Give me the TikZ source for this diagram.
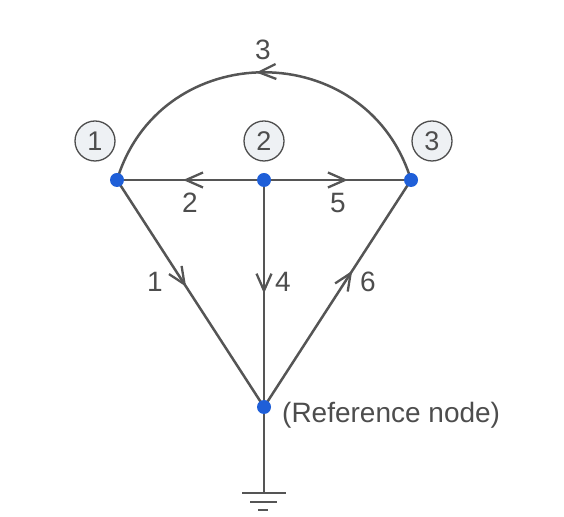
\documentclass[tikz,border=0pt]{standalone}
\usepackage{fontspec}
\setmainfont{Liberation Sans}
\usetikzlibrary{arrows.meta,decorations.markings}
\definecolor{wirec}{HTML}{555555}
\definecolor{lblc}{HTML}{4D4D4D}
\definecolor{dotblue}{HTML}{1F5FD8}
\definecolor{circfill}{HTML}{EEF1F4}

\begin{document}
\begin{tikzpicture}[x=1pt,y=1pt,
  wire/.style={draw=wirec,line width=2.5pt},
  midarrow/.style={postaction={decorate},decoration={markings,mark=at position #1 with {\arrow[wirec,line width=2.3pt]{Straight Barb[length=17pt,width=15pt]}}}},
  numlbl/.style={text=lblc,font=\fontsize{28}{30}\selectfont,inner sep=0pt},
  nodenum/.style={circle,draw=lblc,line width=1.3pt,fill=circfill,minimum size=40pt,inner sep=0pt,text=lblc,font=\fontsize{27}{30}\selectfont}]
\useasboundingbox (0,0) rectangle (564,516);
% junctions
\coordinate (n1) at (117,336);
\coordinate (n2) at (264,336);
\coordinate (n3) at (411,336);
\coordinate (ref) at (264,109);
\coordinate (gnd) at (264,23);
% branches
\draw[wire,midarrow=0.52] (n3) to[out=107,in=73,looseness=1.31] (n1);
\draw[wire,midarrow=0.55] (n2) -- (n1);
\draw[wire,midarrow=0.57] (n2) -- (n3);
\draw[wire,midarrow=0.47] (n1) -- (ref);
\draw[wire,midarrow=0.5] (n2) -- (ref);
\draw[wire,midarrow=0.6] (ref) -- (n3);
\draw[wire] (ref) -- (gnd);
% ground
\draw[wire] ([xshift=-22pt]gnd) -- ([xshift=22pt]gnd);
\draw[wire] ([xshift=-14pt,yshift=-9pt]gnd) -- ([xshift=13pt,yshift=-9pt]gnd);
\draw[wire,line width=1.8pt] ([xshift=-6pt,yshift=-17pt]gnd) -- ([xshift=4pt,yshift=-17pt]gnd);
\foreach \p in {n1,n2,n3,ref}{
\fill[dotblue] (\p) circle (7);}
% node numbers
\foreach \i/\x in {1/95,2/264,3/432}{
\node[nodenum] (c\i) at (\x,375) {\i};}
% branch numbers
\node[numlbl] (b3) at (263,466) {3};
\node[numlbl] (b2) at (190,313) {2};
\node[numlbl] (b5) at (338,313) {5};
\node[numlbl] (b1) at (155,234) {1};
\node[numlbl] (b4) at (283,234) {4};
\node[numlbl] (b6) at (368,234) {6};
\node[numlbl,anchor=west] (reftxt) at (282,101) {(Reference node)};
\end{tikzpicture}
\end{document}
